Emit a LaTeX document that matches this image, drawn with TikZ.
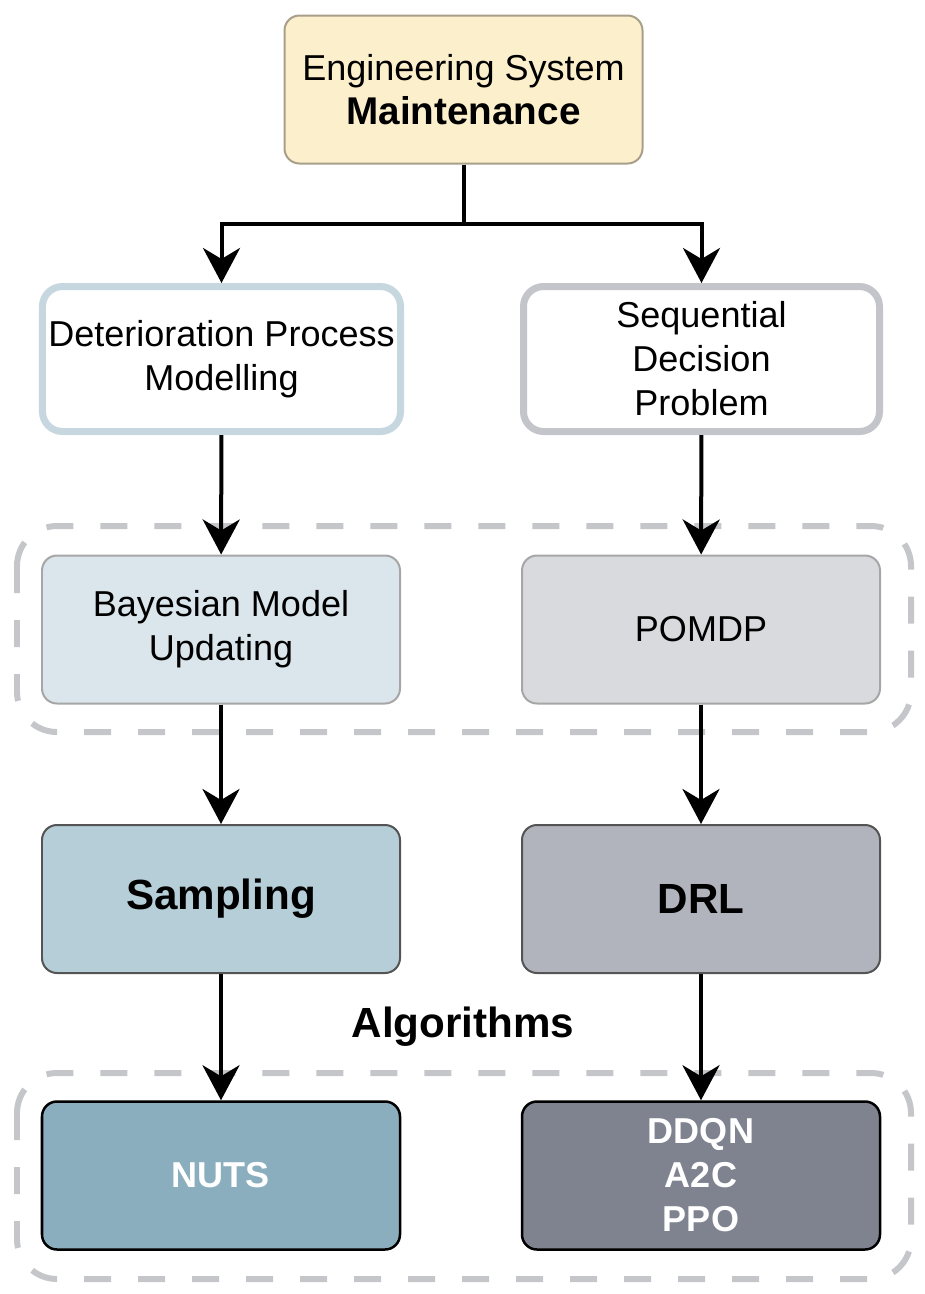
\documentclass[tikz,border=0pt]{standalone}
\usepackage{fontspec}
\setmainfont{Liberation Sans}
\usetikzlibrary{positioning, arrows.meta}
\definecolor{topfill}{HTML}{FCEFCB}
\definecolor{topline}{HTML}{A89F8A}
\definecolor{bluering}{HTML}{C6D7DF}
\definecolor{grayring}{HTML}{C3C5CB}
\definecolor{bluepale}{HTML}{DAE6EB}
\definecolor{graypale}{HTML}{D9DADD}
\definecolor{bluemid}{HTML}{B6CED7}
\definecolor{graymid}{HTML}{B1B4BC}
\definecolor{bluedark}{HTML}{8AAEBE}
\definecolor{graydark}{HTML}{7E838F}
\definecolor{dashgray}{HTML}{C4C6CA}
\tikzset{box/.style={draw, rounded corners=0.3cm, minimum width=7.16cm, minimum height=2.96cm, align=center, font=\fontsize{20.5}{25}\selectfont},
         ringbox/.style={box, line width=0.14cm, fill=white, rounded corners=0.4cm, minimum width=7.12cm, minimum height=2.9cm},
         stagebox/.style={box, line width=0.04cm},
         algbox/.style={box, line width=0.05cm, draw=black, text=white, font=\fontsize{20.5}{25}\selectfont\bfseries},
         group/.style={draw=dashgray, line width=0.12cm, dash pattern=on 0.54cm off 0.54cm, rounded corners=0.8cm},
         flow/.style={line width=0.08cm, -{Stealth[length=0.7cm, width=0.74cm, inset=0.22cm]}},
        }

\begin{document}
\begin{tikzpicture}
        \useasboundingbox (0,0) rectangle (18.5,-25.88);
        \draw[group] (0.34,-10.52) rectangle (18.22,-14.64);
        \draw[group] (0.34,-21.46) rectangle (18.22,-25.58);

        \node[box, fill=topfill, draw=topline, line width=0.04cm](esm)at(9.27,-1.79){{\fontsize{20.5}{24}\selectfont Engineering System}\\{\fontsize{22}{24}\selectfont\bfseries Maintenance}};

        \node[ringbox, draw=bluering](dpm)at(4.43,-7.18){Deterioration Process\\Modelling};
        \node[ringbox, draw=grayring](sdp)at(14.03,-7.18){Sequential\\Decision\\Problem};

        \node[stagebox, fill=bluepale, draw=black!35](bmu)at(4.42,-12.59){Bayesian Model\\Updating};
        \node[stagebox, fill=graypale, draw=black!35](pomdp)at(14.02,-12.59){POMDP};

        \node[stagebox, fill=bluemid, draw=black!67, font=\fontsize{24}{26}\selectfont\bfseries](samp)at(4.42,-17.98){Sampling};
        \node[stagebox, fill=graymid, draw=black!67, font=\fontsize{24}{26}\selectfont\bfseries](drl)at(14.02,-17.98){DRL};

        \node[font=\fontsize{24}{26}\selectfont\bfseries](algs)at(9.26,-20.54){Algorithms};

        \node[algbox, fill=bluedark](nuts)at(4.42,-23.51){NUTS};
        \node[algbox, fill=graydark](rl)at(14.02,-23.51){DDQN\\A2C\\PPO};

        \coordinate (split) at (9.27,-4.48);
        \draw[line width=0.08cm] (esm.south) -- (split);
        \draw[flow] (split) -| (dpm.north);
        \draw[flow] (split) -| (sdp.north);

        \draw[flow] (dpm) -- (bmu);
        \draw[flow] (sdp) -- (pomdp);
        \draw[flow] (bmu) -- (samp);
        \draw[flow] (pomdp) -- (drl);
        \draw[flow] (samp) -- (nuts);
        \draw[flow] (drl) -- (rl);
\end{tikzpicture}
\end{document}
